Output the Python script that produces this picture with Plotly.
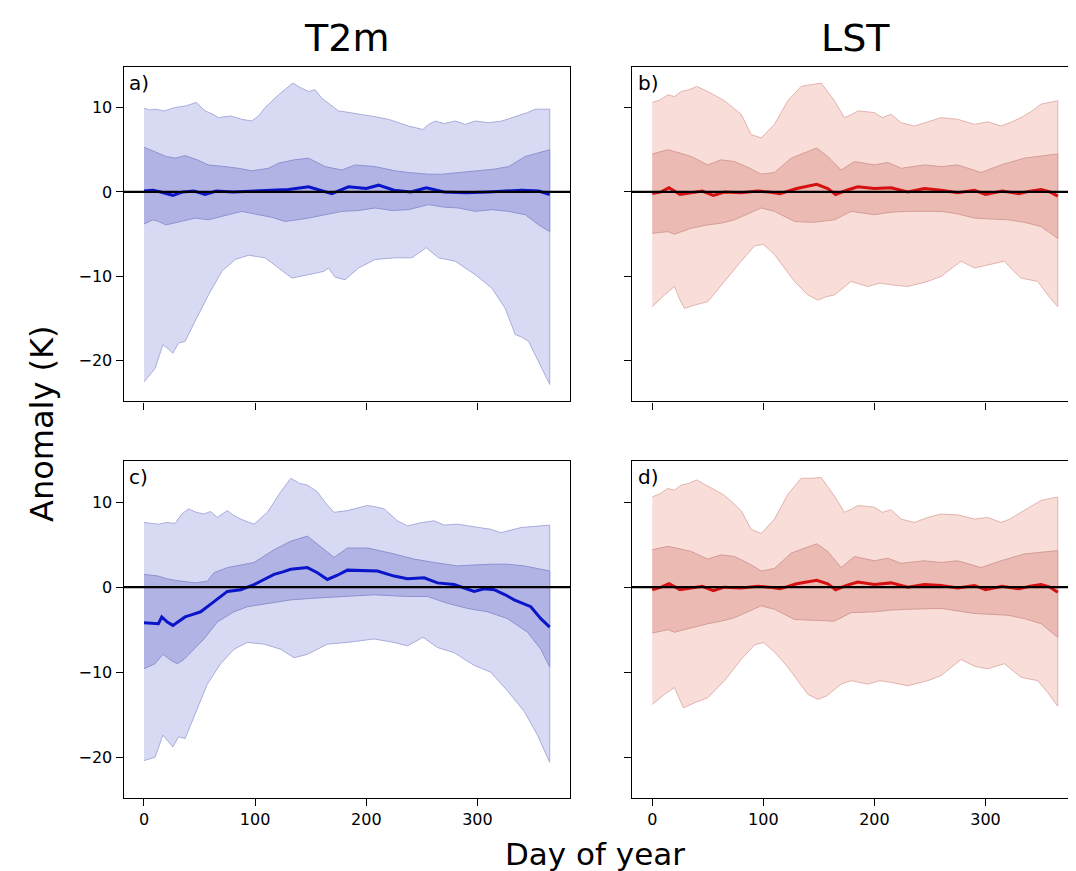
import plotly.graph_objects as go
from plotly.subplots import make_subplots

# ---------------- Data ----------------
# Panel a) T2m
a_out_hi_d = [0, 5, 10, 18, 28, 38, 47, 55, 62, 67, 78, 88, 97, 103, 109, 121, 134, 140, 148, 154, 160, 175, 185, 196, 208, 220, 230, 238, 251, 256, 262, 270, 280, 289, 298, 310, 322, 337, 345, 352, 365]
a_out_hi_v = [9.9, 9.7, 9.8, 9.6, 10.0, 10.2, 10.6, 9.6, 9.2, 8.8, 9.0, 8.6, 8.4, 9.0, 10.0, 11.5, 12.9, 12.4, 11.9, 12.1, 11.1, 9.6, 9.4, 9.2, 8.9, 8.6, 8.2, 7.8, 7.4, 8.0, 8.4, 8.1, 8.4, 8.0, 8.4, 8.2, 8.4, 9.0, 9.4, 9.8, 9.8]
a_out_lo_d = [0, 10, 17, 22, 26, 31, 37, 46, 58, 70, 82, 94, 109, 121, 133, 148, 162, 166, 172, 181, 193, 208, 226, 241, 254, 265, 280, 298, 313, 325, 334, 340, 346, 355, 365]
a_out_lo_v = [-22.5, -20.9, -18.1, -18.6, -19.1, -17.9, -17.7, -15.3, -12.2, -9.4, -8.0, -7.5, -7.8, -9.0, -10.2, -9.8, -9.4, -9.0, -10.1, -10.4, -9.0, -8.0, -7.8, -7.8, -6.6, -7.8, -8.2, -9.8, -11.4, -13.8, -16.9, -17.2, -17.7, -20.1, -22.8]
a_in_hi_d = [0, 13, 20, 28, 37, 48, 58, 73, 85, 97, 112, 121, 135, 148, 163, 178, 190, 208, 226, 238, 256, 268, 283, 298, 315, 328, 343, 365]
a_in_hi_v = [5.3, 4.6, 4.2, 4.0, 4.3, 3.8, 3.2, 3.0, 2.8, 2.5, 2.8, 3.4, 3.8, 4.0, 3.0, 2.6, 3.2, 3.0, 2.5, 2.3, 2.1, 2.1, 2.3, 2.5, 2.7, 3.0, 4.2, 5.0]
a_in_lo_d = [0, 8, 13, 20, 28, 46, 58, 70, 88, 103, 115, 127, 148, 163, 178, 193, 208, 223, 238, 256, 270, 283, 298, 313, 328, 343, 355, 365]
a_in_lo_v = [-3.8, -3.3, -3.5, -3.9, -3.7, -3.1, -3.3, -2.9, -2.3, -2.7, -3.0, -3.5, -3.1, -2.7, -2.3, -2.2, -1.9, -2.2, -2.1, -1.5, -1.8, -1.9, -2.3, -2.1, -2.3, -2.7, -3.9, -4.7]
a_mean_d = [0, 8, 15, 26, 35, 45, 55, 65, 80, 95, 105, 118, 130, 148, 160, 169, 184, 200, 211, 225, 240, 254, 270, 290, 310, 325, 340, 355, 365]
a_mean_v = [0.1, 0.2, 0.0, -0.4, 0.0, 0.1, -0.3, 0.1, 0.0, 0.1, 0.2, 0.3, 0.3, 0.6, 0.1, -0.2, 0.6, 0.4, 0.8, 0.2, 0.0, 0.5, 0.0, -0.1, 0.0, 0.1, 0.2, 0.1, -0.3]

# Panel b) LST
b_out_hi_d = [0, 7, 14, 20, 26, 33, 40, 50, 65, 80, 89, 98, 110, 122, 134, 143, 152, 164, 173, 180, 185, 200, 207, 215, 224, 236, 248, 260, 275, 290, 302, 314, 322, 332, 342, 350, 365]
b_out_hi_v = [10.6, 10.9, 11.5, 11.3, 11.9, 12.1, 12.5, 11.9, 10.8, 9.2, 6.8, 6.4, 8.0, 10.8, 12.5, 12.7, 12.9, 10.8, 8.8, 9.2, 9.6, 9.4, 8.8, 9.2, 8.2, 7.8, 8.3, 8.8, 8.6, 8.0, 8.3, 7.8, 8.2, 8.8, 9.6, 10.4, 10.8]
b_out_lo_d = [0, 11, 20, 25, 29, 38, 50, 65, 80, 92, 100, 110, 128, 140, 149, 157, 164, 179, 194, 205, 215, 230, 248, 260, 278, 290, 302, 317, 324, 332, 347, 356, 365]
b_out_lo_v = [-13.6, -12.2, -11.2, -12.8, -13.8, -13.4, -13.0, -10.6, -8.2, -6.4, -6.2, -7.4, -10.6, -12.2, -12.8, -12.4, -12.2, -10.6, -11.2, -10.8, -11.0, -11.2, -10.6, -10.0, -8.2, -9.0, -8.6, -8.2, -9.2, -10.2, -10.6, -12.2, -13.6]
b_in_hi_d = [0, 14, 25, 35, 50, 62, 74, 88, 98, 110, 125, 148, 158, 170, 182, 200, 212, 224, 245, 260, 275, 296, 314, 335, 365]
b_in_hi_v = [4.5, 5.0, 4.6, 4.2, 3.2, 3.8, 3.6, 2.8, 2.1, 2.3, 4.0, 5.2, 4.2, 2.6, 3.6, 3.2, 3.5, 2.8, 3.2, 3.0, 3.2, 2.3, 3.2, 4.0, 4.5]
b_in_lo_d = [0, 14, 20, 35, 50, 62, 74, 98, 110, 128, 145, 164, 179, 200, 215, 230, 260, 275, 290, 320, 335, 350, 365]
b_in_lo_v = [-4.9, -4.7, -5.0, -4.3, -3.9, -3.7, -3.3, -1.9, -2.3, -3.5, -3.6, -3.3, -2.3, -2.7, -2.4, -2.3, -2.3, -2.6, -3.1, -3.3, -3.6, -4.1, -5.5]
b_mean_d = [0, 8, 15, 25, 35, 45, 55, 65, 80, 95, 105, 115, 130, 140, 148, 158, 165, 175, 185, 200, 215, 230, 245, 260, 275, 290, 300, 315, 330, 340, 350, 358, 365]
b_mean_v = [-0.2, 0.0, 0.5, -0.3, -0.1, 0.1, -0.4, 0.0, -0.1, 0.1, 0.0, -0.2, 0.4, 0.7, 0.9, 0.4, -0.3, 0.2, 0.6, 0.4, 0.5, 0.0, 0.4, 0.2, -0.1, 0.2, -0.3, 0.1, -0.2, 0.1, 0.3, 0.0, -0.5]

# Panel c) T2m
c_out_hi_d = [0, 13, 20, 28, 34, 40, 47, 54, 60, 66, 75, 80, 87, 99, 111, 123, 132, 140, 147, 156, 164, 171, 183, 192, 201, 210, 216, 228, 237, 250, 261, 270, 282, 292, 303, 312, 321, 339, 365]
c_out_hi_v = [7.6, 7.4, 7.6, 7.5, 8.6, 9.2, 8.8, 8.6, 8.9, 8.2, 9.0, 8.5, 8.0, 7.4, 8.8, 11.2, 12.8, 12.2, 12.0, 11.2, 9.8, 8.8, 9.0, 9.3, 9.6, 9.4, 9.2, 7.8, 7.2, 7.6, 7.8, 7.3, 7.4, 7.2, 7.0, 6.8, 6.4, 7.0, 7.3]
c_out_lo_d = [0, 10, 17, 26, 31, 37, 46, 57, 69, 81, 93, 108, 123, 135, 147, 165, 183, 207, 225, 237, 251, 264, 279, 297, 312, 327, 342, 354, 365]
c_out_lo_v = [-20.4, -20.0, -17.4, -18.8, -17.6, -17.8, -15.0, -11.4, -9.0, -7.3, -6.5, -6.7, -7.3, -8.3, -7.9, -6.7, -6.5, -6.1, -6.5, -6.9, -5.9, -7.1, -7.7, -9.2, -10.0, -12.2, -14.6, -17.4, -20.6]
c_in_hi_d = [0, 13, 20, 28, 46, 57, 63, 75, 87, 99, 117, 132, 147, 159, 171, 183, 201, 222, 243, 261, 282, 297, 312, 327, 342, 365]
c_in_hi_v = [1.5, 1.3, 1.0, 0.8, 0.5, 0.7, 1.7, 2.3, 2.6, 2.9, 4.4, 5.4, 6.0, 4.8, 3.5, 4.6, 4.6, 4.0, 3.3, 2.9, 2.5, 2.6, 2.7, 2.7, 2.5, 1.9]
c_in_lo_d = [0, 10, 17, 24, 30, 36, 42, 54, 66, 81, 93, 111, 132, 153, 177, 207, 237, 255, 273, 291, 309, 327, 345, 357, 365]
c_in_lo_v = [-9.6, -9.0, -7.9, -8.6, -9.0, -8.5, -7.7, -6.1, -4.1, -2.9, -2.3, -1.9, -1.5, -1.3, -1.1, -0.9, -1.1, -1.1, -1.9, -2.5, -2.9, -3.7, -5.3, -7.3, -9.4]
c_mean_d = [0, 13, 16, 21, 26, 32, 37, 44, 51, 63, 75, 87, 99, 108, 117, 125, 132, 147, 156, 165, 174, 183, 201, 210, 225, 237, 252, 264, 279, 297, 306, 315, 325, 333, 348, 357, 365]
c_mean_v = [-4.2, -4.3, -3.5, -4.1, -4.5, -4.0, -3.5, -3.2, -2.9, -1.7, -0.5, -0.3, 0.3, 0.9, 1.5, 1.8, 2.1, 2.3, 1.7, 0.9, 1.4, 2.0, 1.9, 1.9, 1.3, 1.0, 1.1, 0.5, 0.3, -0.5, -0.2, -0.3, -0.9, -1.5, -2.3, -3.7, -4.7]

# Panel d) LST
d_out_hi_d = [0, 7, 14, 20, 26, 33, 40, 50, 65, 80, 89, 98, 110, 122, 134, 143, 152, 164, 173, 180, 185, 200, 207, 215, 224, 236, 248, 260, 275, 290, 302, 314, 322, 332, 342, 350, 365]
d_out_hi_v = [10.6, 11.0, 11.6, 11.4, 12.0, 12.2, 12.6, 11.9, 10.8, 9.0, 6.8, 6.3, 8.0, 10.9, 12.8, 12.8, 12.9, 10.7, 8.8, 9.2, 9.6, 9.4, 8.8, 9.1, 8.0, 7.6, 8.2, 8.6, 8.5, 8.0, 8.2, 7.6, 8.0, 8.8, 9.6, 10.2, 10.6]
d_out_lo_d = [0, 11, 20, 28, 38, 50, 65, 80, 92, 100, 110, 122, 140, 149, 157, 170, 179, 194, 205, 215, 230, 248, 260, 278, 290, 302, 317, 332, 347, 356, 365]
d_out_lo_v = [-13.8, -12.6, -11.8, -14.2, -13.6, -13.0, -11.0, -8.5, -6.8, -6.5, -7.6, -9.4, -12.6, -13.2, -12.8, -11.4, -11.0, -11.4, -11.0, -11.2, -11.6, -11.0, -10.4, -8.5, -9.3, -9.6, -9.0, -10.6, -11.0, -12.4, -14.0]
d_in_hi_d = [0, 14, 25, 35, 50, 62, 74, 88, 98, 110, 125, 148, 158, 170, 182, 200, 212, 224, 245, 260, 275, 296, 314, 335, 365]
d_in_hi_v = [4.4, 4.8, 4.5, 4.2, 3.3, 3.8, 3.6, 2.7, 1.9, 2.2, 4.0, 5.1, 4.2, 2.3, 3.6, 3.1, 3.4, 2.8, 3.1, 2.9, 3.1, 2.3, 3.1, 3.9, 4.3]
d_in_lo_d = [0, 14, 20, 35, 50, 62, 74, 98, 110, 128, 145, 164, 179, 200, 215, 230, 260, 275, 290, 320, 335, 350, 365]
d_in_lo_v = [-5.4, -5.0, -5.3, -4.8, -4.3, -4.0, -3.6, -2.2, -2.6, -3.8, -3.9, -4.0, -3.0, -2.9, -2.7, -2.6, -2.5, -2.8, -3.1, -3.3, -3.7, -4.3, -5.9]
d_mean_d = [0, 8, 15, 25, 35, 45, 55, 65, 80, 95, 105, 115, 130, 140, 148, 158, 165, 175, 185, 200, 215, 230, 245, 260, 275, 290, 300, 315, 330, 340, 350, 358, 365]
d_mean_v = [-0.3, 0.0, 0.4, -0.3, -0.1, 0.1, -0.4, 0.0, -0.1, 0.1, 0.0, -0.2, 0.4, 0.6, 0.8, 0.4, -0.3, 0.2, 0.6, 0.3, 0.5, 0.0, 0.3, 0.2, -0.1, 0.2, -0.3, 0.1, -0.2, 0.1, 0.3, 0.0, -0.6]

col_titles = ["T2m", "LST"]
panel_labels = ["a)", "b)", "c)", "d)"]
x_ticks = [0, 100, 200, 300]
y_ticks = [-20, -10, 0, 10]
x_range = [-18.25, 383.25]
y_range = [-24.8, 14.8]

BLUE = dict(outer="#d8daf3", outer_edge="#a9acdb", inner="#b0b3e4", inner_edge="#8e92cf", line="#0a14c8")
RED = dict(outer="#f9ddd9", outer_edge="#e2b3ad", inner="#ebbab3", inner_edge="#d49d96", line="#d41010")

panels = [
    (1, 1, BLUE, (a_out_hi_d, a_out_hi_v, a_out_lo_d, a_out_lo_v), (a_in_hi_d, a_in_hi_v, a_in_lo_d, a_in_lo_v), (a_mean_d, a_mean_v)),
    (1, 2, RED, (b_out_hi_d, b_out_hi_v, b_out_lo_d, b_out_lo_v), (b_in_hi_d, b_in_hi_v, b_in_lo_d, b_in_lo_v), (b_mean_d, b_mean_v)),
    (2, 1, BLUE, (c_out_hi_d, c_out_hi_v, c_out_lo_d, c_out_lo_v), (c_in_hi_d, c_in_hi_v, c_in_lo_d, c_in_lo_v), (c_mean_d, c_mean_v)),
    (2, 2, RED, (d_out_hi_d, d_out_hi_v, d_out_lo_d, d_out_lo_v), (d_in_hi_d, d_in_hi_v, d_in_lo_d, d_in_lo_v), (d_mean_d, d_mean_v)),
]

fig = make_subplots(rows=2, cols=2)


def band(hd, hv, ld, lv, fill, edge):
    return go.Scatter(
        x=list(hd) + list(reversed(ld)),
        y=list(hv) + list(reversed(lv)),
        fill="toself", fillcolor=fill, mode="lines",
        line=dict(color=edge, width=1), hoverinfo="skip", showlegend=False,
    )


for r, c, pal, outer, inner, mean in panels:
    fig.add_trace(band(*outer, pal["outer"], pal["outer_edge"]), row=r, col=c)
    fig.add_trace(band(*inner, pal["inner"], pal["inner_edge"]), row=r, col=c)
    fig.add_trace(go.Scatter(x=mean[0], y=mean[1], mode="lines",
                             line=dict(color=pal["line"], width=3),
                             showlegend=False), row=r, col=c)

W, H = 1076, 871
xdom = [[115.7 / W, 562.0 / W], [624.0 / W, 1070.0 / W]]
ydom = [[1 - 393.3 / H, 1 - 59.0 / H], [1 - 790.0 / H, 1 - 453.3 / H]]

FONT = "DejaVu Sans"
axis_common = dict(showline=True, mirror=True, linecolor="black", linewidth=1.4,
                   ticks="outside", ticklen=7, tickwidth=1.4, tickcolor="black",
                   showgrid=False, zeroline=False,
                   tickfont=dict(family=FONT, size=16, color="black"))

for i, (r, c, *_rest) in enumerate(panels):
    n = "" if i == 0 else str(i + 1)
    fig.layout["xaxis" + n].update(domain=xdom[c - 1], range=x_range, tickvals=x_ticks,
                                   showticklabels=(r == 2), **axis_common)
    fig.layout["yaxis" + n].update(domain=ydom[r - 1], range=y_range, tickvals=y_ticks,
                                   showticklabels=(c == 1), **axis_common)
    fig.add_shape(type="line", xref="x" + n + " domain", yref="y" + n,
                  x0=0, x1=1, y0=0, y1=0, line=dict(color="black", width=2.2))
    fig.add_annotation(text=panel_labels[i], xref="x" + n + " domain", yref="y" + n + " domain",
                       x=0.008, y=0.995, xanchor="left", yanchor="top", showarrow=False,
                       font=dict(family=FONT, size=20, color="black"))

for j, t in enumerate(col_titles):
    fig.add_annotation(text=t, xref="paper", yref="paper",
                       x=(xdom[j][0] + xdom[j][1]) / 2, y=1 - 30 / H,
                       xanchor="center", yanchor="middle", showarrow=False,
                       font=dict(family=FONT, size=38, color="black"))

fig.add_annotation(text="Day of year", xref="paper", yref="paper",
                   x=587 / W, y=1 - 846 / H, xanchor="center", yanchor="middle",
                   showarrow=False, font=dict(family=FONT, size=31, color="black"))
fig.add_annotation(text="Anomaly (K)", xref="paper", yref="paper",
                   x=34 / W, y=1 - 416 / H, xanchor="center", yanchor="middle",
                   textangle=-90, showarrow=False,
                   font=dict(family=FONT, size=32, color="black"))

fig.update_layout(width=W, height=H, margin=dict(l=0, r=0, t=0, b=0),
                  paper_bgcolor="white", plot_bgcolor="white", showlegend=False)

fig.write_html("out.html")
